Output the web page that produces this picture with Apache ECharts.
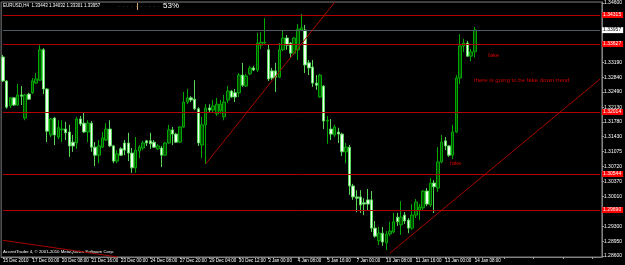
<!DOCTYPE html>
<html><head><meta charset="utf-8">
<script src="https://cdn.jsdelivr.net/npm/echarts@6/dist/echarts.min.js"></script>
<style>html,body{margin:0;padding:0;background:#000}#c{width:625px;height:265px}</style>
</head><body><div id="c"></div>
<script>
const symbolName = 'EURUSD,H4';
const slotCount = 163;
const xTickLabels = ['15 Dec 2010','17 Dec 00:00','20 Dec 08:00','21 Dec 16:00','23 Dec 00:00','24 Dec 08:00','27 Dec 20:00','29 Dec 04:00','30 Dec 12:00','3 Jan 00:00','4 Jan 08:00','5 Jan 16:00','7 Jan 00:00','10 Jan 08:00','11 Jan 16:00','13 Jan 00:00','14 Jan 08:00'];
const yTicks = [1.34600,1.33190,1.32840,1.32490,1.32130,1.31780,1.31430,1.31075,1.30720,1.30370,1.30010,1.29300,1.28950,1.28600];
const yMin = 1.28575, yMax = 1.34624;

const opens = [1.3332,1.3275,1.3216,1.3235,1.3218,1.3242,1.3187,1.3244,1.3247,1.3270,
1.3277,1.3349,1.3256,1.3147,1.3187,1.3142,1.3159,1.3161,1.3154,1.3130,
1.3128,1.3185,1.3175,1.3154,1.3175,1.3118,1.3099,1.3118,1.3135,1.3161,
1.3121,1.3085,1.3114,1.3128,1.3128,1.3104,1.3069,1.3109,1.3116,1.3133,
1.3133,1.3130,1.3114,1.3116,1.3099,1.3128,1.3159,1.3149,1.3130,1.3166,
1.3225,1.3235,1.3232,1.3209,1.3123,1.3171,1.3211,1.3206,1.3197,1.3204,
1.3190,1.3230,1.3251,1.3247,1.3247,1.3289,1.3263,1.3292,1.3306,1.3301,
1.3360,1.3365,1.3349,1.3299,1.3299,1.3284,1.3349,1.3377,1.3365,1.3341,
1.3349,1.3396,1.3396,1.3318,1.3308,1.3270,1.3237,1.3263,1.3180,1.3161,
1.3147,1.3154,1.3149,1.3107,1.3118,1.3026,1.3000,1.3000,1.2986,1.2993,
1.2993,1.2926,1.2896,1.2914,1.2891,1.2912,1.2917,1.2952,1.2934,1.2957,
1.2945,1.2926,1.2957,1.2969,1.2974,1.3014,1.2981,1.3033,1.3021,1.3083,
1.3133,1.3121,1.3099,1.3154,1.3282,1.3358,1.3365,1.3334,1.33443];
const closes = [1.3275,1.3213,1.3235,1.3218,1.3242,1.3239,1.3242,1.3232,1.3275,1.3280,
1.3349,1.3256,1.3156,1.3185,1.3147,1.3164,1.3161,1.3152,1.3121,1.3121,
1.3185,1.3173,1.3154,1.3175,1.3118,1.3099,1.3121,1.3140,1.3161,1.3121,
1.3085,1.3102,1.3099,1.3111,1.3104,1.3069,1.3111,1.3118,1.3128,1.3128,
1.3126,1.3118,1.3121,1.3099,1.3128,1.3159,1.3149,1.3130,1.3166,1.3225,
1.3235,1.3230,1.3209,1.3128,1.3171,1.3211,1.3206,1.3216,1.3220,1.3220,
1.3225,1.3251,1.3237,1.3237,1.3289,1.3265,1.3287,1.3306,1.3301,1.3365,
1.3367,1.3367,1.3280,1.3282,1.3284,1.3349,1.3377,1.3360,1.3341,1.3377,
1.3398,1.3401,1.3313,1.3306,1.3270,1.3265,1.3289,1.3180,1.3182,1.3149,
1.3166,1.3149,1.3107,1.3118,1.3026,1.3000,1.2997,1.2981,1.2983,1.2983,
1.2926,1.2907,1.2914,1.2893,1.2912,1.2919,1.2941,1.2941,1.2952,1.2943,
1.2926,1.2957,1.2988,1.2976,1.3014,1.2983,1.3033,1.3024,1.3083,1.3130,
1.3121,1.3099,1.3154,1.3282,1.3358,1.3365,1.3334,1.3344,1.33957];
const lows = [1.3273,1.3209,1.3211,1.3216,1.3216,1.3218,1.3182,1.3230,1.3244,1.3268,
1.3275,1.3244,1.3130,1.3142,1.3123,1.3137,1.3130,1.3135,1.3095,1.3107,
1.3114,1.3168,1.3152,1.3130,1.3107,1.3073,1.3080,1.3116,1.3133,1.3118,
1.3080,1.3080,1.3097,1.3099,1.3085,1.3057,1.3057,1.3092,1.3111,1.3121,
1.3114,1.3116,1.3111,1.3071,1.3097,1.3126,1.3123,1.3128,1.3128,1.3164,
1.3220,1.3225,1.3206,1.3121,1.3092,1.3078,1.3199,1.3201,1.3192,1.3197,
1.3182,1.3223,1.3235,1.3225,1.3237,1.3261,1.3261,1.3289,1.3299,1.3296,
1.3351,1.3363,1.3275,1.3277,1.3249,1.3282,1.3346,1.3349,1.3330,1.3337,
1.3325,1.3394,1.3294,1.3289,1.3261,1.3254,1.3235,1.3161,1.3126,1.3135,
1.3142,1.3128,1.3097,1.3080,1.3005,1.2993,1.2964,1.2962,1.2957,1.2969,
1.2917,1.2903,1.2886,1.2884,1.2874,1.2907,1.2914,1.2931,1.2910,1.2936,
1.2914,1.2922,1.2950,1.2945,1.2969,1.2978,1.2976,1.2962,1.3012,1.3080,
1.3111,1.3095,1.3090,1.3152,1.3268,1.3344,1.3332,1.3322,1.33301];
const highs = [1.3337,1.3277,1.3237,1.3237,1.3268,1.3263,1.3244,1.3247,1.3282,1.3294,
1.3360,1.3353,1.3258,1.3187,1.3190,1.3182,1.3182,1.3178,1.3171,1.3147,
1.3190,1.3192,1.3201,1.3182,1.3180,1.3130,1.3135,1.3154,1.3175,1.3182,
1.3123,1.3111,1.3118,1.3135,1.3152,1.3116,1.3142,1.3123,1.3133,1.3135,
1.3152,1.3135,1.3126,1.3121,1.3130,1.3171,1.3166,1.3152,1.3168,1.3249,
1.3256,1.3239,1.3277,1.3213,1.3190,1.3220,1.3220,1.3230,1.3235,1.3230,
1.3242,1.3263,1.3254,1.3256,1.3294,1.3318,1.3292,1.3311,1.3311,1.3389,
1.3391,1.3424,1.3363,1.3306,1.3318,1.3365,1.3396,1.3384,1.3367,1.3379,
1.3410,1.3434,1.3408,1.3325,1.3325,1.3289,1.3292,1.3265,1.3192,1.3185,
1.3171,1.3164,1.3152,1.3128,1.3123,1.3031,1.3016,1.3016,1.2997,1.3019,
1.3014,1.2943,1.2929,1.2929,1.2919,1.2941,1.2962,1.2962,1.2990,1.2964,
1.2950,1.2983,1.2995,1.2983,1.3016,1.3021,1.3045,1.3040,1.3118,1.3147,
1.3142,1.3123,1.3171,1.3289,1.3386,1.3375,1.3370,1.3351,1.34032];

const hLevels = [1.34315,1.33627,1.32014,1.30544,1.29690];
const bidPrice = 1.33957;
const trendUp1 = [[55,1.30781],[90,1.34620]];
const trendUp2 = [[105,1.28668],[162,1.32797]];
const trendDown = [[0,1.28971],[31,1.28577]];
const notes = [
  {text:'fake', x:488, y:52},
  {text:'there is going to be fake down trend', x:474, y:77},
  {text:'fake', x:450, y:160}
];

const slots = Array.from({length: slotCount}, (_, i) => String(i));
const candles = opens.map((o, i) => [o, closes[i], lows[i], highs[i]]);
const last = opens.length - 1;
const header = symbolName + '  ' + [opens[last], highs[last], lows[last], closes[last]].map(v => v.toFixed(5)).join(' ');
const firstSlot = slots[0], lastSlot = slots[slotCount - 1];

const red = '#b00000';
const lineFont = '"Liberation Sans", Arial, sans-serif';
function hLine(v, lineStyle, bg, fg) {
  return [
    {coord: [firstSlot, v], lineStyle: lineStyle,
     label: {show: true, position: 'end', distance: 2, formatter: () => v.toFixed(5),
       backgroundColor: bg, color: fg, fontSize: 5, fontFamily: lineFont, padding: [1, 2, 0, 1]}},
    {coord: [lastSlot, v]}
  ];
}
const mk = hLevels.map(v => hLine(v, {color: red, width: 1, type: 'solid'}, '#ff0000', '#ffffff'));
mk.push(hLine(bidPrice, {color: '#4e5b66', width: 1, type: 'solid'}, '#ffffff', '#000000'));
[trendUp1, trendUp2, trendDown].forEach(t => mk.push([
  {coord: [String(t[0][0]), t[0][1]], lineStyle: {color: '#a80000', width: 1, type: 'solid'}, label: {show: false}},
  {coord: [String(t[1][0]), t[1][1]]}
]));

const chart = echarts.init(document.getElementById('c'), null, {renderer: 'canvas'});
chart.setOption({
  animation: false,
  backgroundColor: '#000000',
  grid: {left: 0, right: 18, top: 2, bottom: 8, show: true, borderColor: '#808080', borderWidth: 1, backgroundColor: 'transparent'},
  xAxis: {
    type: 'category', data: slots, boundaryGap: true,
    axisLine: {show: true, lineStyle: {color: '#808080'}},
    axisTick: {show: true, interval: 7, alignWithLabel: true, length: 2, lineStyle: {color: '#a0a0a0'}},
    axisLabel: {interval: 7, margin: 1, align: 'left', color: '#ffffff', fontSize: 4.5, fontFamily: lineFont,
      formatter: (v, i) => (i % 8 === 0 && xTickLabels[i / 8]) ? xTickLabels[i / 8] : ''},
    splitLine: {show: false}
  },
  yAxis: {
    type: 'value', position: 'right', min: yMin, max: yMax,
    axisLine: {show: true, lineStyle: {color: '#808080'}},
    axisTick: {show: true, length: 2, customValues: yTicks, lineStyle: {color: '#a0a0a0'}},
    axisLabel: {show: true, customValues: yTicks, margin: 2, color: '#ffffff', fontSize: 5, fontFamily: lineFont,
      formatter: v => v.toFixed(5)},
    splitLine: {show: false}
  },
  series: [{
    type: 'candlestick', data: candles, barWidth: 3, z: 2,
    itemStyle: {color: '#004a00', color0: '#f2fff2', borderColor: '#00a800', borderColor0: '#58d858', borderWidth: 1},
    markLine: {silent: true, symbol: ['none', 'none'], animation: false, data: mk}
  }],
  graphic: [
    {type: 'text', left: 3, top: 3, style: {text: header, fill: '#ffffff', font: '4.5px ' + lineFont}},
    {type: 'text', left: 118, top: 4, style: {text: '·  ·  ·  ·  ·  ·  ·  ·  ·  ·  ·', fill: '#b0b0b0', font: '5px ' + lineFont}},
    {type: 'rect', shape: {x: 137, y: 3, width: 1, height: 7}, style: {fill: '#d0a070'}},
    {type: 'text', left: 163, top: 2, style: {text: '53%', fill: '#ffffff', font: '8px ' + lineFont}},
    {type: 'text', left: 3, top: 250, style: {text: 'AccentTrader 4, © 2001-2010 MetaQuotes Software Corp.', fill: '#ffffff', font: '4.3px ' + lineFont}}
  ].concat(notes.map(n => ({type: 'text', left: n.x, top: n.y, style: {text: n.text, fill: '#cc0000', font: '6px ' + lineFont}})))
});
</script></body></html>
